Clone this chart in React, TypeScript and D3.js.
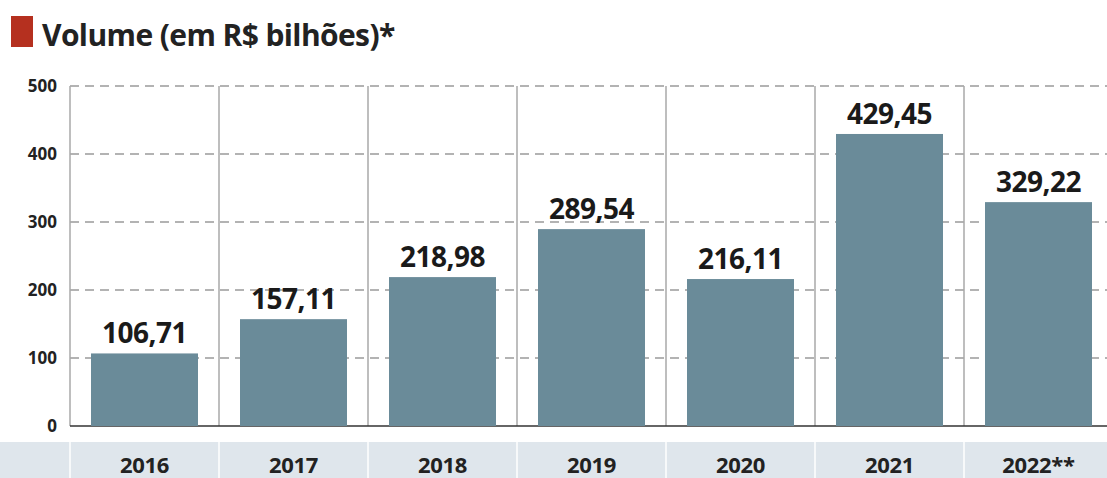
import React from "react";
import * as d3 from "d3";

const years = ["2016", "2017", "2018", "2019", "2020", "2021", "2022**"];
const volumes = [106.71, 157.11, 218.98, 289.54, 216.11, 429.45, 329.22];
const labels = ["106,71", "157,11", "218,98", "289,54", "216,11", "429,45", "329,22"];
const ticks = [0, 100, 200, 300, 400, 500];

const W = 1107, H = 478;
const left = 70, right = 1113, top = 86, bottom = 426;
const FONT = "'Open Sans', 'DejaVu Sans', sans-serif";

export default function App() {
  const x = d3.scaleBand<string>().domain(years).range([left, right]).paddingInner(0).paddingOuter(0);
  const y = d3.scaleLinear().domain([0, 500]).range([bottom, top]);
  const bw = x.bandwidth();
  const pad = 21;
  return (
    <svg width={W} height={H} style={{ position: "absolute", left: 0, top: 0, background: "#fff" }}>
      <rect x={11} y={16} width={22} height={31} fill="#b5301f" />
      <text x={42} y={46} fontFamily={FONT} fontWeight={700} fontSize={30} fill="#222" style={{ letterSpacing: "-0.6px" }}>
        Volume (em R$ bilhões)*
      </text>
      {/* bottom band */}
      <rect x={0} y={442} width={W} height={H - 442} fill="#dfe6ec" />
      {years.map((yr) => (
        <line key={"bs" + yr} x1={x(yr)!} x2={x(yr)!} y1={442} y2={H} stroke="#fff" strokeWidth={1.5} />
      ))}
      {/* grid */}
      {ticks.filter((t) => t > 0).map((t) => (
        <line key={"g" + t} x1={left} x2={W} y1={y(t)} y2={y(t)} stroke="#9a9a9a" strokeWidth={1.5} strokeDasharray="9,6" />
      ))}
      {years.map((yr) => (
        <line key={"v" + yr} x1={x(yr)!} x2={x(yr)!} y1={y(500)} y2={y(0)} stroke="#a8a8a8" strokeWidth={1.5} />
      ))}
      <line x1={left} x2={W} y1={y(0)} y2={y(0)} stroke="#333" strokeWidth={1.5} />
      {ticks.map((t) => (
        <text key={"t" + t} x={57} y={y(t) + 6} textAnchor="end" fontFamily={FONT} fontWeight={700} fontSize={17} fill="#222">
          {t}
        </text>
      ))}
      {years.map((yr, i) => (
        <g key={yr}>
          <rect x={x(yr)! + pad} y={y(volumes[i])} width={bw - 2 * pad} height={y(0) - y(volumes[i])} fill="#6a8b99" />
          <text x={x(yr)! + bw / 2} y={y(volumes[i]) - 10} textAnchor="middle" fontFamily={FONT} fontWeight={700} fontSize={28} fill="#1a1a1a" style={{ letterSpacing: "-0.5px" }}>
            {labels[i]}
          </text>
          <text x={x(yr)! + bw / 2} y={473} textAnchor="middle" fontFamily={FONT} fontWeight={700} fontSize={22} fill="#222" style={{ letterSpacing: "-0.3px" }}>
            {yr}
          </text>
        </g>
      ))}
    </svg>
  );
}
